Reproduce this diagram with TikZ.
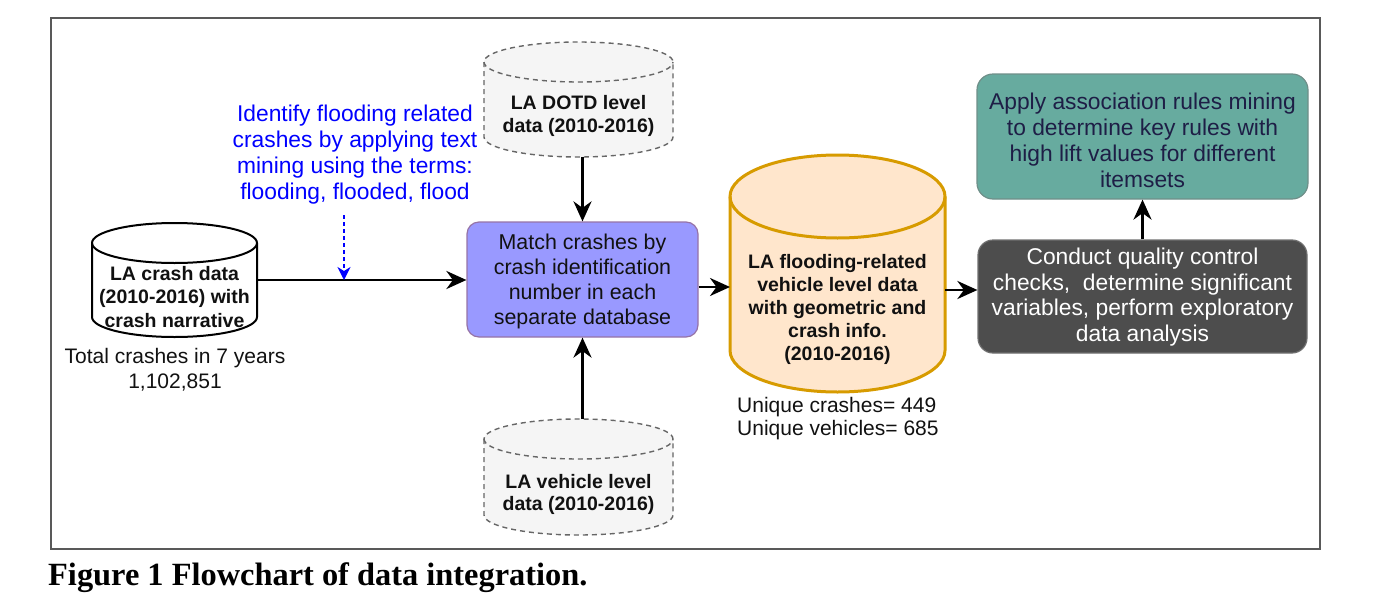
\documentclass[tikz,border=0pt]{standalone}
\usepackage{fontspec}
\setmainfont{Liberation Sans}
\newfontfamily\capfont{Liberation Serif}
\usetikzlibrary{arrows.meta,calc}
\definecolor{matchfill}{HTML}{9999FF}
\definecolor{matchdraw}{HTML}{9673A6}
\definecolor{orfill}{HTML}{FFE6CC}
\definecolor{ordraw}{HTML}{D79B00}
\definecolor{tealfill}{HTML}{67AB9F}
\definecolor{tealdraw}{HTML}{6F8F89}
\definecolor{tealtext}{HTML}{1E1E46}
\definecolor{darkfill}{HTML}{4D4D4D}
\definecolor{darkdraw}{HTML}{707070}
\definecolor{cylfill}{HTML}{F5F5F5}
\definecolor{cyldraw}{HTML}{666666}
\definecolor{txt}{HTML}{111111}
\newcommand\mycyl[6]{% style, cx, ytop, ybot, rx, ry
  \path[#1] ({#2-#5},{-#3}) -- ({#2-#5},{-#4})
    arc[start angle=180,end angle=360,x radius=#5,y radius=#6]
    -- ({#2+#5},{-#3})
    arc[start angle=0,end angle=180,x radius=#5,y radius=#6] -- cycle;
  \path[#1,fill=none] ({#2-#5},{-#3})
    arc[start angle=180,end angle=360,x radius=#5,y radius=#6];
}
\tikzset{
  arr/.style={draw=black,line width=2.8pt,-{Stealth[length=20pt,width=18pt,inset=6.5pt]}},
  bluearr/.style={draw=blue,line width=1.4pt,dash pattern=on 4pt off 3pt,-{Stealth[length=13pt,width=13pt,inset=4pt]}},
  boxarea/.style={inner sep=0pt,outer sep=0pt,draw=none},
  btxt/.style={align=center,text=txt,font=\bfseries\fontsize{19.5}{23.3}\selectfont,inner sep=0pt},
  ntxt/.style={align=center,text=txt,font=\fontsize{21}{24}\selectfont,inner sep=0pt},
  cylblack/.style={draw=black,line width=2pt,fill=white},
  cylgray/.style={draw=cyldraw,line width=1.4pt,dash pattern=on 5pt off 4pt,fill=cylfill},
  cylorange/.style={draw=ordraw,line width=3pt,fill=orfill},
}
\begin{document}
\begin{tikzpicture}[x=1pt,y=1pt]
\useasboundingbox (0,0) rectangle (1378,-613);
% frame
\draw[draw=black!65,line width=1.2pt] (51,-18) rectangle (1320,-549);

% cylinders
\mycyl{cylblack}{174.5}{243}{317}{82.5}{20}
\node[boxarea,minimum width=165pt,minimum height=114pt] (crash) at (174.5,-280) {};
\node[btxt] (crasht) at (174.5,-297) {LA crash data\\(2010-2016) with\\crash narrative};
\node[ntxt,font=\fontsize{21}{25}\selectfont] (total) at (175,-370) {Total crashes in 7 years\\1,102,851};

\mycyl{cylgray}{578.5}{62}{137}{94.5}{20}
\node[boxarea,minimum width=189pt,minimum height=115pt] (dotd) at (578.5,-99.5) {};
\node[btxt,font=\bfseries\fontsize{19.5}{22.5}\selectfont] (dotdt) at (578.5,-116) {LA DOTD level\\data (2010-2016)};

\mycyl{cylgray}{578.5}{439}{515}{94.5}{20}
\node[boxarea,minimum width=189pt,minimum height=116pt] (veh) at (578.5,-477) {};
\node[btxt,font=\bfseries\fontsize{19.5}{22.5}\selectfont] (veht) at (578.5,-494.5) {LA vehicle level\\data (2010-2016)};

\mycyl{cylorange}{837.5}{196.5}{350.5}{107.5}{41.5}
\node[boxarea,minimum width=215pt,minimum height=237pt] (flood) at (837.5,-273.5) {};
\node[btxt,font=\bfseries\fontsize{19.5}{23}\selectfont] (floodt) at (837.5,-309) {LA flooding-related\\vehicle level data\\with geometric and\\crash info.\\(2010-2016)};
\node[ntxt,align=left,anchor=west,font=\fontsize{21}{23}\selectfont] (uniq) at (737,-418.5) {Unique crashes= 449\\Unique vehicles= 685};

% boxes
\node[draw=matchdraw,fill=matchfill,line width=1.2pt,rounded corners=12pt,minimum width=231pt,minimum height=115pt,inner sep=0pt] (match) at (582.5,-279.5) {};
\node[ntxt,font=\fontsize{21.4}{25}\selectfont] (matcht) at (582.5,-281) {Match crashes by\\crash identification\\number in each\\separate database};

\node[draw=darkdraw,fill=darkfill,line width=1.2pt,rounded corners=15pt,minimum width=329pt,minimum height=113pt,inner sep=0pt] (qc) at (1142.5,-296.5) {};
\node[ntxt,text=white,font=\fontsize{22.8}{25.6}\selectfont] (qct) at (1142.5,-297) {Conduct quality control\\checks,~ determine significant\\variables, perform exploratory\\data analysis};

\node[draw=tealdraw,fill=tealfill,line width=1.2pt,rounded corners=16pt,minimum width=331pt,minimum height=125pt,inner sep=0pt] (rules) at (1142.5,-136.5) {};
\node[ntxt,text=tealtext,font=\fontsize{22.8}{26}\selectfont] (rulest) at (1142.5,-140) {Apply association rules mining\\to determine key rules with\\high lift values for different\\itemsets};

% blue annotation
\node[ntxt,text=blue,font=\fontsize{22.8}{26}\selectfont] (note) at (355,-155) {Identify flooding related\\crashes by applying text\\mining using the terms:\\flooding, flooded, flood};
\coordinate (notearr) at (344,-215);

% connectors
\draw[arr] (crash.east) -- (crash.east -| match.west);
\draw[bluearr] (notearr) -- (notearr |- crash.east);
\draw[arr] (match.north |- dotd.south) -- (match.north);
\draw[arr] (match.south |- veh.north) -- (match.south);
\draw[arr] ([yshift=-7.5pt]match.east) -- ([yshift=-7.5pt]match.east -| flood.west);
\draw[arr] ([yshift=-16.5pt]flood.east) -- ([yshift=-16.5pt]flood.east -| qc.west);
\draw[arr] (qc.north) -- (rules.south);

% caption
\node[anchor=base west,inner sep=0pt,font=\capfont\bfseries\fontsize{32.4}{38}\selectfont] (cap) at (48,-585) {Figure 1 Flowchart of data integration.};
\end{tikzpicture}
\end{document}
